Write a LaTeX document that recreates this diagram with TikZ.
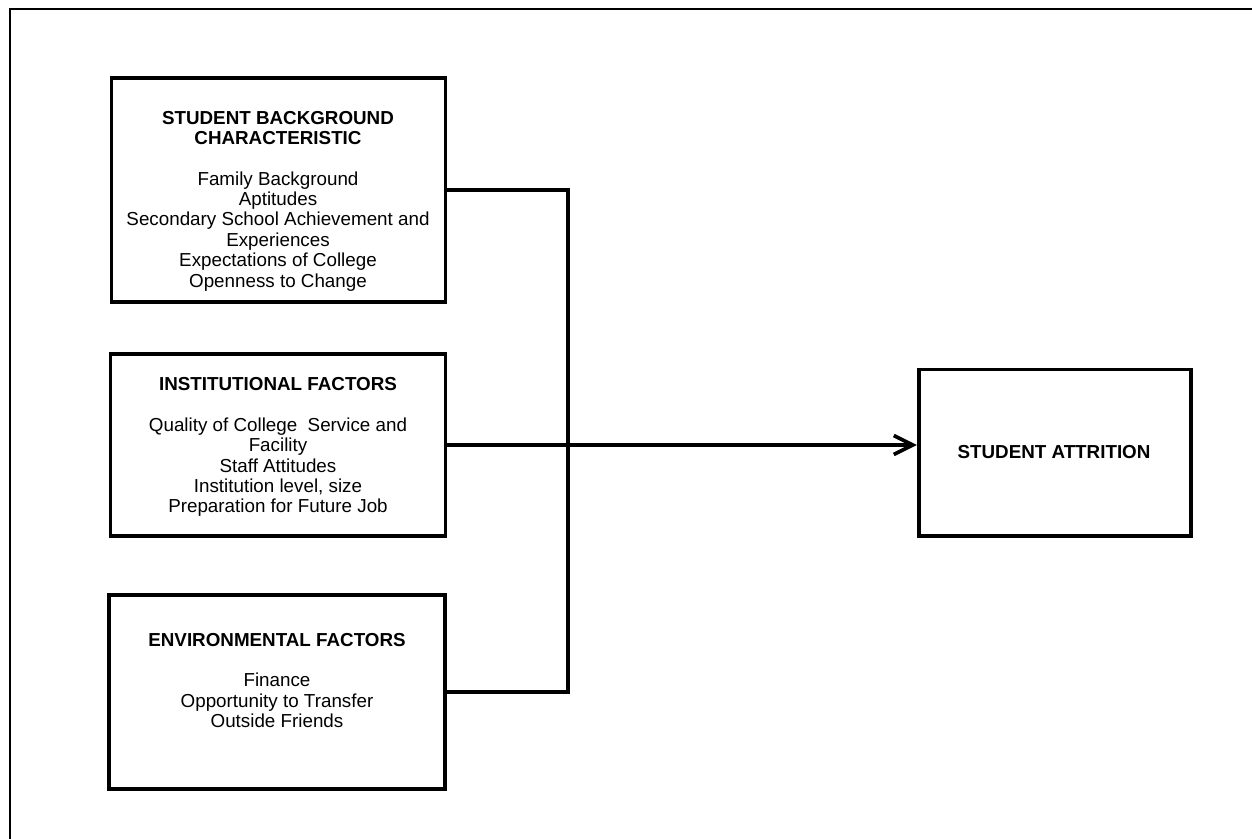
\documentclass[tikz,border=0pt]{standalone}
\usepackage{fontspec}
\setmainfont{Liberation Sans}
\usetikzlibrary{arrows.meta}

\begin{document}
\begin{tikzpicture}[x=0.02cm,y=-0.02cm,
  box/.style={shape=rectangle,draw=black,line width=2.1pt,inner sep=0pt},
  txt/.style={align=center,font=\fontsize{10.7}{11.6}\selectfont},
  link/.style={draw=black,line width=2.1pt}]
\useasboundingbox (0,0) rectangle (1252,839);
\draw[line width=1.4pt] (1252,9) -- (10,9) -- (10,839);

\node[box,minimum width=6.68cm,minimum height=4.47cm] (0) at (278.5,190) {};
\node[box,minimum width=6.70cm,minimum height=3.63cm] (1) at (278,445) {};
\node[box,minimum width=6.73cm,minimum height=3.88cm] (2) at (277,691.7) {};
\node[box,minimum width=5.45cm,minimum height=3.33cm] (3) at (1055,452.8) {};

\node[txt] (4) at (278,201) {\textbf{STUDENT BACKGROUND}\\\textbf{CHARACTERISTIC}\\[11.6pt]
  Family Background\\Aptitudes\\Secondary School Achievement and\\Experiences\\
  Expectations of College\\Openness to Change};
\node[txt] (5) at (278,447) {\textbf{INSTITUTIONAL FACTORS}\\[11.6pt]
  Quality of College\ \ Service and\\Facility\\Staff Attitudes\\
  Institution level, size\\Preparation for Future Job};
\node[txt] (6) at (277,680.5) {\textbf{ENVIRONMENTAL FACTORS}\\[11.6pt]
  Finance\\Opportunity to Transfer\\Outside Friends};
\node[txt] (7) at (1054,452) {\textbf{STUDENT ATTRITION}};

\coordinate (8) at (568,0);
\path [link] (0.east) -- (0.east -| 8) -- (2.east -| 8) -- (2.east);
\path [link,-{Straight Barb[length=3.8mm,width=3.8mm]}] (1.east) -- (1.east -| 3.west);
\end{tikzpicture}
\end{document}
